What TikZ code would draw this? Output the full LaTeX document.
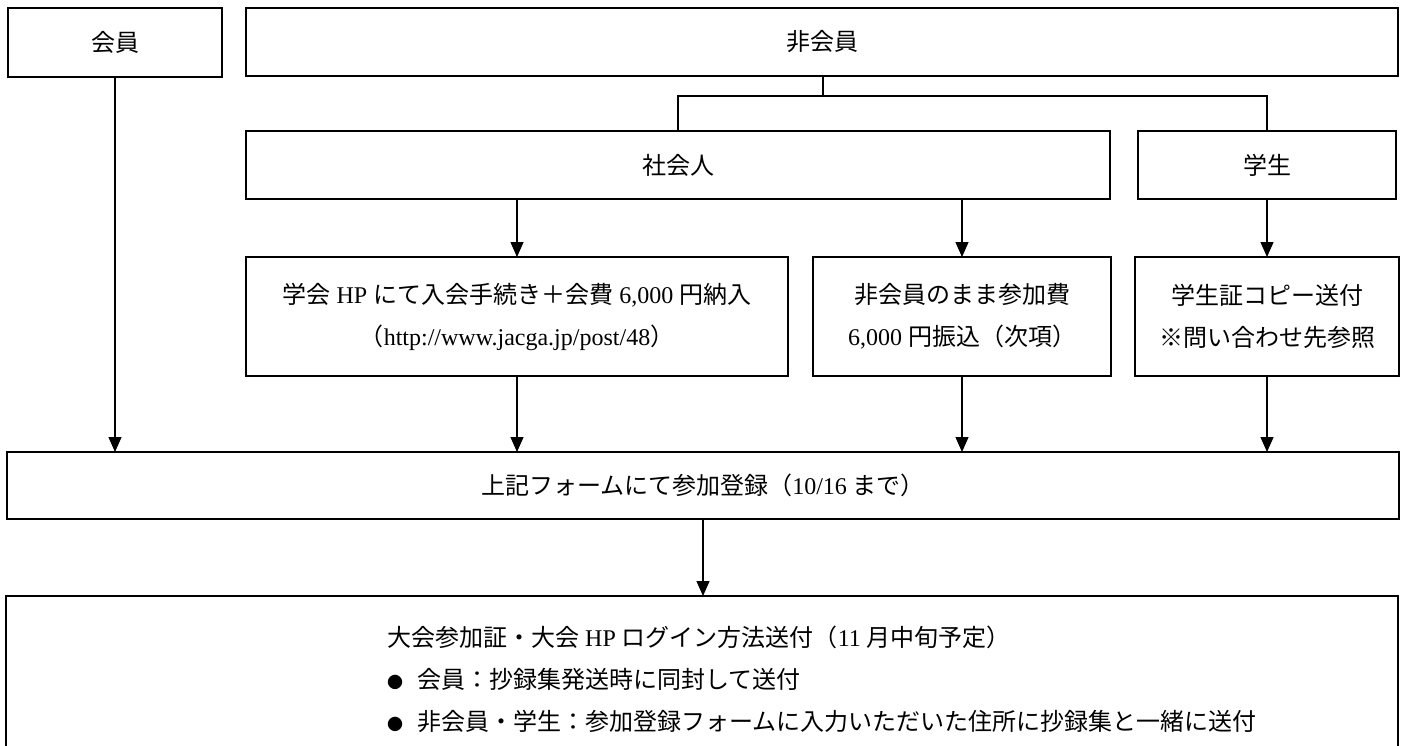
\documentclass[tikz,border=0pt]{standalone}
\usepackage{fontspec}
\setmainfont{Liberation Serif}
\newfontfamily\jp{Noto Sans CJK JP}
\usetikzlibrary{arrows.meta}
\newcommand\J[1]{{\jp #1}}
\begin{document}
\begin{tikzpicture}[x=1pt,y=-1pt,
  box/.style={draw=black, line width=1.2pt, inner sep=0pt, outer sep=0pt, align=center,
              font=\fontsize{24}{42}\selectfont},
  arr/.style={line width=1.2pt, -{Triangle[width=13pt,length=15pt]}},
  conn/.style={line width=1.2pt},
  txt/.style={inner sep=0pt, anchor=base west, font=\fontsize{24}{28}\selectfont}]
\clip (0,0) rectangle (1402,746);
\fill[white] (0,0) rectangle (1402,746);
% top row
\node[box, minimum width=214, minimum height=69] (kaiin) at (115,42.5) {\J{会員}};
\node[box, minimum width=1152, minimum height=68] (hikaiin) at (822,42) {\J{非会員}};
\coordinate (br) at (823,96);
% second row
\node[box, minimum width=864, minimum height=68] (shakai) at (678,165) {\J{社会人}};
\node[box, minimum width=258, minimum height=68] (gakusei) at (1267,165) {\J{学生}};
% third row
\node[box, minimum width=542, minimum height=119] (nyukai) at (517,316.5)
  {\J{学会} HP \J{にて入会手続き＋会費} 6,000 \J{円納入}\\\J{（}http://www.jacga.jp/post/48\J{）}};
\node[box, minimum width=298, minimum height=119] (mama) at (962,316.5)
  {\J{非会員のまま参加費}\\6,000 \J{円振込（次項）}};
\node[box, minimum width=264, minimum height=119] (shomei) at (1267,316.5)
  {\J{学生証コピー送付}\\\J{※問い合わせ先参照}};
% registration
\node[box, minimum width=1392, minimum height=67] (toroku) at (703,485.5)
  {\J{上記フォームにて参加登録（}10/16 \J{まで）}};
% info box
\node[box, anchor=north west, minimum width=1392, minimum height=220] (info) at (6,596) {};
\node[txt] (l1) at (387,646) {\J{大会参加証・大会} HP \J{ログイン方法送付（}11 \J{月中旬予定）}};
\node[txt] (l2) at (387,688) {{\jp\fontsize{16}{16}\selectfont ●}\hspace{14pt}\J{会員：抄録集発送時に同封して送付}};
\node[txt] (l3) at (387,730) {{\jp\fontsize{16}{16}\selectfont ●}\hspace{14pt}\J{非会員・学生：参加登録フォームに入力いただいた住所に抄録集と一緒に送付}};
% connectors
\draw[conn] (hikaiin.south -| br) -- (br);
\draw[conn] (shakai.north) |- (br) -| (gakusei.north);
\draw[arr] (kaiin.south) -- (toroku.north -| kaiin);
\draw[arr] (shakai.south -| nyukai) -- (nyukai.north);
\draw[arr] (shakai.south -| mama) -- (mama.north);
\draw[arr] (gakusei.south) -- (shomei.north);
\draw[arr] (nyukai.south) -- (toroku.north -| nyukai);
\draw[arr] (mama.south) -- (toroku.north -| mama);
\draw[arr] (shomei.south) -- (toroku.north -| shomei);
\draw[arr] (toroku.south) -- (info.north -| toroku);
\end{tikzpicture}
\end{document}
